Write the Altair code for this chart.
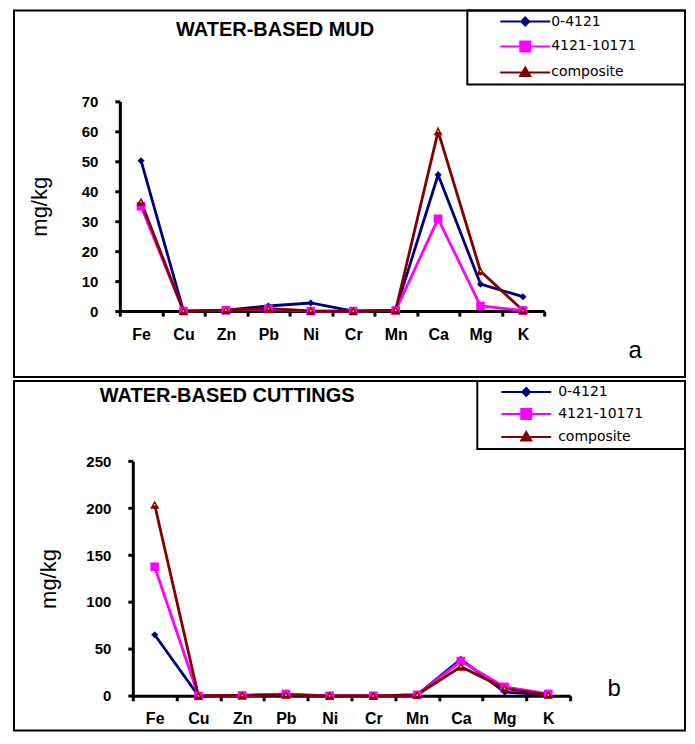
import altair as alt
import pandas as pd

elements = ["Fe", "Cu", "Zn", "Pb", "Ni", "Cr", "Mn", "Ca", "Mg", "K"]
series_names = ["0-4121", "4121-10171", "composite"]
series_colors = ["#000080", "#FF00FF", "#800000"]

mud_0_4121 = [50.2, 0, 0.3, 1.7, 2.7, 0, 0.3, 45.5, 9.0, 4.8]
mud_4121_10171 = [35.0, 0, 0.3, 0.7, 0, 0, 0.2, 30.8, 1.7, 0.2]
mud_composite = [36.5, 0, 0.3, 0.8, 0.1, 0, 0.3, 60.0, 13.3, 0.2]

cut_0_4121 = [65.0, 0, 0.5, 1.0, 0, 0, 1.0, 39.0, 4.0, 1.0]
cut_4121_10171 = [137.5, 0, 0.3, 2.0, 0, 0, 1.0, 37.0, 9.5, 2.0]
cut_composite = [203.5, 0, 0.5, 1.0, 0, 0, 1.0, 31.0, 8.0, 1.0]

mud_ticks = [0, 10, 20, 30, 40, 50, 60, 70]
cut_ticks = [0, 50, 100, 150, 200, 250]


def make_df(values_by_series):
    rows = []
    for name, vals in zip(series_names, values_by_series):
        for el, v in zip(elements, vals):
            rows.append({"element": el, "series": name, "value": v})
    return pd.DataFrame(rows)


mud_df = make_df([mud_0_4121, mud_4121_10171, mud_composite])
cut_df = make_df([cut_0_4121, cut_4121_10171, cut_composite])

FONT = "Liberation Sans"
WIDTH = 672

marker_paths = [
    "M0,-0.8L0.8,0L0,0.8L-0.8,0Z",
    "M-1,-1H1V1H-1Z",
    "M0,-1L1,0.7H-1Z",
]
marker_shapes = ["diamond", "square", "triangle-up"]
marker_sizes = [50, 75, 85]


def legend_paths(right):
    # line segment + marker; the bare moveTo widens the legend frame to the right
    return ["M%s,0M-5,0H5%s" % (right, m) for m in marker_paths]


def panel(df, ticks, ymax, xrange, yrange, yoff, xoff, title, title_dx, title_dy,
          height, letter, letter_x, letter_y, title_x, row_pad, ext_r, sym_off, lab_off):
    x = alt.X("element:N", sort=elements,
              scale=alt.Scale(type="band", domain=elements, range=xrange,
                              paddingInner=0, paddingOuter=0),
              axis=alt.Axis(title=None, orient="bottom", offset=xoff, tickBand="extent",
                            labelAngle=0, labelFont=FONT, labelFontWeight="bold",
                            labelFontSize=16, labelPadding=10, labelColor="black",
                            tickSize=5, tickWidth=3, tickColor="black",
                            domainWidth=3, domainColor="black"))
    y = alt.Y("value:Q",
              scale=alt.Scale(domain=[0, ymax], range=yrange, nice=False),
              axis=alt.Axis(title="mg/kg", orient="left", offset=yoff, values=ticks,
                            grid=False, labelFont=FONT, labelFontWeight="bold",
                            labelFontSize=15, labelPadding=17, labelColor="black",
                            tickSize=5, tickWidth=3, tickColor="black",
                            domainWidth=3, domainColor="black",
                            titleFont=FONT, titleFontSize=22, titleFontWeight="normal",
                            titleColor="black", titleX=title_x, titleY=(yrange[0] + yrange[1]) / 2,
                            titleBaseline="middle", titleAngle=-90))
    color = alt.Color("series:N", scale=alt.Scale(domain=series_names, range=series_colors),
                      legend=None)
    base = alt.Chart(df)
    legend = alt.Legend(title=None, orient="top-right", offset=0, strokeColor="black",
                        padding=4, rowPadding=row_pad, labelFont="DejaVu Sans", labelFontSize=14,
                        labelColor="black", symbolSize=100, symbolStrokeWidth=2,
                        symbolOffset=sym_off, labelOffset=lab_off, symbolOpacity=1)
    layers = [
        base.mark_point(filled=True, size=0, strokeWidth=0, opacity=1).encode(
            x=x, y=y,
            fill=alt.Fill("series:N", scale=alt.Scale(domain=series_names, range=series_colors),
                          legend=legend),
            stroke=alt.Stroke("series:N", scale=alt.Scale(domain=series_names, range=series_colors),
                              legend=legend),
            shape=alt.Shape("series:N", scale=alt.Scale(domain=series_names,
                                                        range=legend_paths(ext_r)),
                            legend=legend),
        ),
        base.mark_line(strokeWidth=2.8).encode(x=x, y=y, color=color),
    ]
    for name, col, shp, sz in zip(series_names, series_colors, marker_shapes, marker_sizes):
        layers.append(
            base.transform_filter(alt.datum.series == name)
            .mark_point(filled=True, shape=shp, size=sz, color=col, opacity=1)
            .encode(x=x, y=y)
        )
    layers.append(
        base.transform_filter(alt.datum.series == "composite")
        .mark_point(filled=True, shape="circle", size=3, color="#FFFF00", opacity=1)
        .encode(x=x, y=y)
    )
    letter_df = pd.DataFrame({"t": [letter]})
    layers.append(
        alt.Chart(letter_df).mark_text(font=FONT, fontSize=24, fontWeight="normal",
                                       color="black", align="center", baseline="middle")
        .encode(text="t:N", x=alt.value(letter_x), y=alt.value(letter_y))
    )
    return alt.layer(*layers).properties(
        width=WIDTH, height=height,
        title=alt.TitleParams(title, anchor="middle", dx=title_dx, dy=title_dy,
                              font=FONT, fontSize=20, fontWeight="bold", color="black"),
    )


p1 = panel(mud_df, mud_ticks, 70, [106, 531], [301, 91], -106, -66,
           "WATER-BASED MUD", -74.5, 35, 367, "a", 622, 341, -80, 8, 30.4, 47, 19)
p2 = panel(cut_df, cut_ticks, 250, [119, 557], [315.3, 80.3], -119, -34.7,
           "WATER-BASED CUTTINGS", -122.5, 30, 350, "b", 601, 308, -84, 5, 30.2, 38, 25)

chart = alt.vconcat(p1, p2, spacing=1).resolve_scale(
    x="independent", y="independent", color="independent",
    fill="independent", stroke="independent", shape="independent"
).properties(
    padding={"left": 5, "top": 0, "right": 0, "bottom": 0},
    background="white",
).configure_view(
    stroke="black", strokeWidth=2
).configure_legend(
    strokeWidth=2
)

chart.save("out.html", embed_options={"renderer": "svg", "actions": False})
